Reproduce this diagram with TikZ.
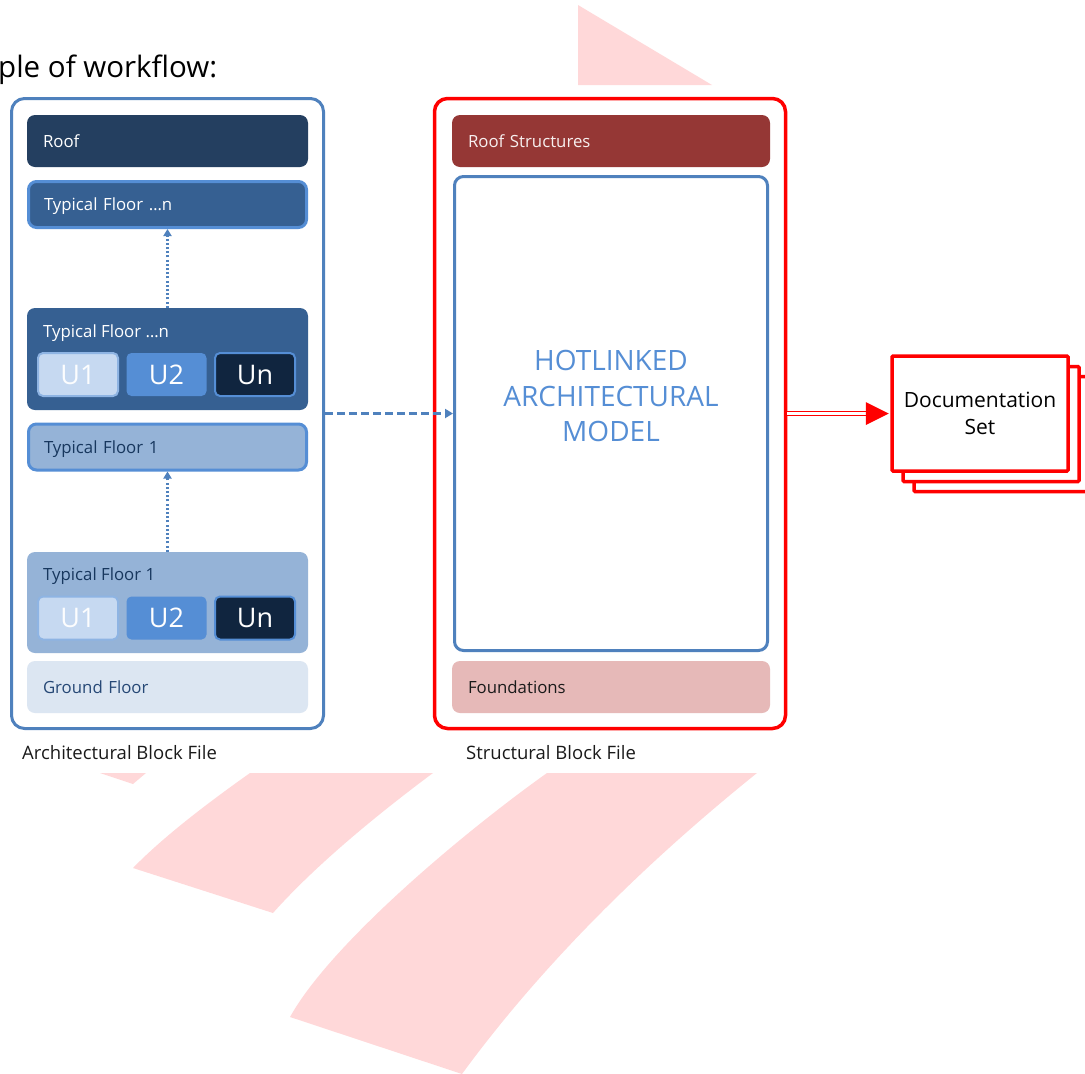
\documentclass[tikz,border=0pt]{standalone}
\usepackage{fontspec}
\setmainfont{Open Sans}
\usetikzlibrary{arrows.meta,calc}
\definecolor{navy}{RGB}{36,63,96}
\definecolor{midblue}{RGB}{54,96,146}
\definecolor{accent}{RGB}{85,142,213}
\definecolor{outline}{RGB}{79,129,189}
\definecolor{lightblue}{RGB}{149,179,215}
\definecolor{paleblue}{RGB}{198,217,241}
\definecolor{uborder}{RGB}{142,180,227}
\definecolor{darknavy}{RGB}{16,37,63}
\definecolor{groundfill}{RGB}{220,230,242}
\definecolor{groundtext}{RGB}{38,72,118}
\definecolor{tfonetext}{RGB}{23,55,94}
\definecolor{roofstruct}{RGB}{149,55,53}
\definecolor{found}{RGB}{230,185,184}
\definecolor{wmpink}{RGB}{255,216,217}
\definecolor{txtdark}{RGB}{26,26,26}
\begin{document}
\begin{tikzpicture}[x=1pt,y=-1pt,
  lblfont/.style={font=\fontsize{16.8}{20}\selectfont},
  floorbox/.style={lblfont, rectangle, rounded corners=8pt, minimum width=281pt, minimum height=52pt,
    text width=249pt, align=left, inner xsep=16pt, inner ysep=0pt, text height=12.1pt, text depth=0pt},
  borderbox/.style={floorbox, draw=accent, line width=3pt, minimum width=278pt, minimum height=46pt, text width=247pt, inner xsep=14.5pt},
  grouplbl/.style={lblfont, anchor=west, inner sep=0pt, text height=12.1pt, text depth=0pt},
  ubox/.style={rectangle, rounded corners=5pt, minimum width=80pt, minimum height=43pt, inner sep=0pt,
    font=\fontsize{27}{30}\selectfont, text height=19.3pt, text depth=0pt},
  outerbox/.style={rectangle, rounded corners=13pt, fill=white},
  caption/.style={font=\fontsize{18.5}{22}\selectfont, anchor=west, inner sep=0pt, text height=13.3pt, text depth=0pt, text=txtdark},
  dotarrow/.style={outline, line width=2.4pt, dash pattern=on 2pt off 2.2pt, -{Triangle[length=7pt,width=8pt]}},
  dasharrow/.style={outline, line width=2.4pt, dash pattern=on 8pt off 4pt, -{Triangle[length=8pt,width=9pt]}},
  page/.style={rectangle, draw=red, line width=3.5pt, fill=white, minimum width=176pt, minimum height=115pt, rounded corners=1pt}
]
\useasboundingbox (0,0) rectangle (1085,1074);
% watermark shapes
\fill[wmpink] (578,5) -- (712,85) -- (578,85) -- cycle;
\fill[wmpink] (100,773) -- (146,773) -- (133,784) -- cycle;
\fill[wmpink] (250,773) .. controls (212,800) and (165,835) .. (133,868) -- (273,913) .. controls (320,860) and (390,805) .. (433,773) -- cycle;
\fill[wmpink] (547,773) .. controls (460,835) and (330,945) .. (290,1017) -- (462,1074) .. controls (560,940) and (680,835) .. (757,773) -- cycle;

% title
\node[anchor=base west, inner sep=0pt, font=\fontsize{29.5}{34}\selectfont, text=black] (title) at (-2,77) {ple of workflow:};

% left outer box
\node[outerbox, draw=outline, line width=3pt, minimum width=312pt, minimum height=630pt] (arch) at (167.5,413.5) {};
\node[floorbox, fill=navy, text=white] (roof) at (167.5,141) {Roof};
\node[borderbox, fill=midblue, text=white] (tfntop) at (167.5,204.5) {Typical Floor …n};
\node[rectangle, rounded corners=8pt, fill=midblue, minimum width=281pt, minimum height=102pt] (tfngroup) at (167.5,359) {};
\node[grouplbl, text=white] (tfnlbl) at (43,331) {Typical Floor …n};
\node[ubox, fill=paleblue, draw=uborder, line width=2pt, text=white!95!paleblue] (u1a) at (78,374.5) {U1};
\node[ubox, fill=accent, text=white] (u2a) at (166.5,374.5) {U2};
\node[ubox, fill=darknavy, draw=accent, line width=2pt, text=white] (una) at (255,374.5) {Un};
\node[borderbox, fill=lightblue, text=tfonetext] (tfone) at (167.5,447) {Typical Floor 1};
\node[rectangle, rounded corners=8pt, fill=lightblue, minimum width=281pt, minimum height=101pt] (tfonegroup) at (167.5,602.5) {};
\node[grouplbl, text=tfonetext] (tfonelbl) at (43,574) {Typical Floor 1};
\node[ubox, fill=paleblue, draw=uborder, line width=2pt, text=white!95!paleblue] (u1b) at (78,618) {U1};
\node[ubox, fill=accent, text=white] (u2b) at (166.5,618) {U2};
\node[ubox, fill=darknavy, draw=accent, line width=2pt, text=white] (unb) at (255,618) {Un};
\node[floorbox, fill=groundfill, text=groundtext] (ground) at (167.5,687) {Ground Floor};
\node[caption] (archcap) at (22,753) {Architectural Block File};

\draw[dotarrow] (tfngroup.north) -- (tfntop.south);
\draw[dotarrow] (tfonegroup.north) -- (tfone.south);

% right outer box
\node[outerbox, draw=red, line width=3.5pt, minimum width=351pt, minimum height=630pt] (struct) at (610,413.5) {};
\node[floorbox, fill=roofstruct, text=white!92!roofstruct, minimum width=318pt, text width=286pt] (roofs) at (611,141) {Roof Structures};
\node[rectangle, rounded corners=9pt, draw=outline, line width=3pt, fill=white, minimum width=313pt, minimum height=474pt] (hot) at (611,413.5) {};
\node[text=accent, align=center, inner sep=0pt, font=\fontsize{28}{35.5}\selectfont] (hottext) at (611,396) {HOTLINKED\\ARCHITECTURAL\\MODEL};
\node[floorbox, fill=found, text=txtdark, minimum width=318pt, text width=286pt] (found) at (611,687) {Foundations};
\node[caption] (structcap) at (466,753) {Structural Block File};

\draw[dasharrow] (arch.east |- hot.center) -- (hot.west);

% documentation set
\node[page] (doc3) at (1002,434) {};
\node[page] (doc2) at (991,424) {};
\node[page, align=center, font=\fontsize{21}{27}\selectfont, text=black] (doc1) at (980,413.5) {Documentation\\Set};
\coordinate (tip) at ($(doc1.west)+(-1.5,0)$);
\draw[red, line width=1.3pt, double=white, double distance=2.4pt] (struct.east |- doc1.west) -- ($(tip)+(-22,0)$);
\fill[red] (tip) -- ++(-23,-11.5) -- ++(0,23) -- cycle;
\end{tikzpicture}
\end{document}
